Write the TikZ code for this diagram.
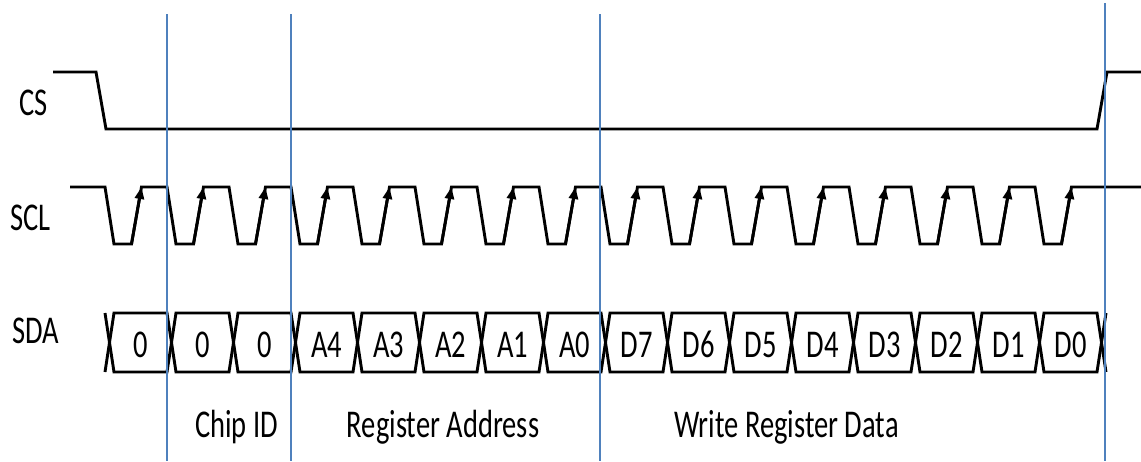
\documentclass[tikz,border=0pt]{standalone}
\usepackage{fontspec}
\setmainfont{Carlito}
\usetikzlibrary{arrows.meta}
\definecolor{guideblue}{HTML}{4F81BD}
\newcommand{\tallText}[1]{\scalebox{1}[1.38]{#1}}
\begin{document}
\begin{tikzpicture}[x=1pt,y=-1pt,
  sig/.style={line width=2.9pt, line join=miter, draw=black},
  guide/.style={draw=guideblue, line width=1.8pt},
  txt/.style={font=\fontsize{28.5}{34}\selectfont, inner sep=0pt, anchor=base},
  clk/.style={sig, -{Triangle[length=12pt,width=9pt]}}]
\useasboundingbox (0,0) rectangle (1141,461);

% CS
\draw[sig] (53,72) -- (96,72) -- (106,129) -- (1097,129) -- (1107,72) -- (1141,72);

% SCL
\draw[sig] (70,187) \foreach \k in {0,...,15}{ -- ({105+62*\k},187) -- ({114+62*\k},244) -- ({131.5+62*\k},244) -- ({141.5+62*\k},187)} -- (1141,187);
\foreach \k in {0,...,15} \draw[clk] ({131.5+62*\k},244) -- ({141.5+62*\k},187);

% SDA
\foreach \k in {0,...,15} {
  \pgfmathsetmacro\a{105+62*\k}
  \pgfmathsetmacro\b{167+62*\k}
  \draw[sig] (\a+4.5,342.5) -- (\a+9,313) -- (\b,313) -- (\b+4.5,342.5) -- (\b,372) -- (\a+9,372) -- cycle;
}
\draw[sig] (105,313) -- (109.5,342.5) -- (105,372);
\draw[sig] (1106,313) -- (1101.5,342.5) -- (1106,372);

\foreach \l [count=\i from 0] in {0,0,0,A4,A3,A2,A1,A0,D7,D6,D5,D4,D3,D2,D1,D0}
  \node[txt] (c\i) at ({140.5+62*\i},357) {\tallText{\l}};

% signal names
\node[txt] (cs) at (33.5,115) {\tallText{CS}};
\node[txt] (scl) at (30.5,230) {\tallText{SCL}};
\node[txt] (sda) at (36,343) {\tallText{SDA}};

% field labels
\node[txt] (chipid) at (236.5,437) {\tallText{Chip ID}};
\node[txt] (regaddr) at (443,437) {\tallText{Register Address}};
\node[txt] (wrdata) at (786.5,437) {\tallText{Write Register Data}};

% guide lines
\draw[guide] (167,14) -- (167,461);
\draw[guide] (291,14) -- (291,461);
\draw[guide] (600,14) -- (600,461);
\draw[guide] (1105,3) -- (1105,461);
\end{tikzpicture}
\end{document}
